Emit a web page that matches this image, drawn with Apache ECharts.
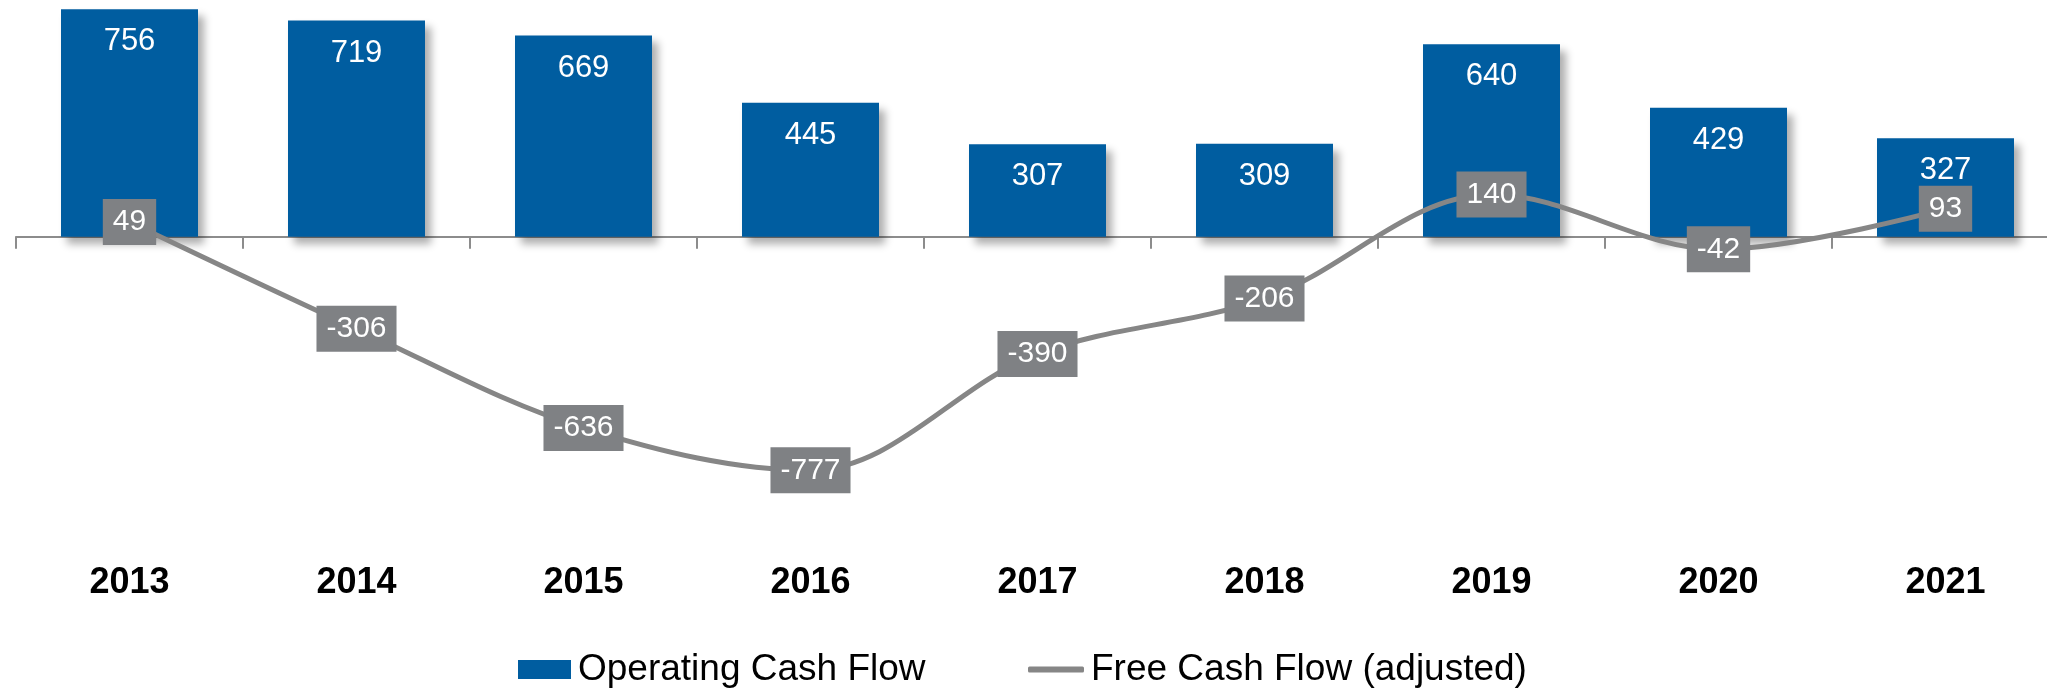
<!DOCTYPE html>
<html>
<head>
<meta charset="utf-8">
<script src="https://cdn.jsdelivr.net/npm/echarts@6/dist/echarts.min.js"></script>
<style>
  html, body { margin: 0; padding: 0; background: #ffffff; }
  #chart { width: 2047px; height: 691px; }
</style>
</head>
<body>
<div id="chart"></div>
<script>
// Fiscal years on the category axis
const years = ['2013', '2014', '2015', '2016', '2017', '2018', '2019', '2020', '2021'];
// Operating cash flow per year (bars)
const operatingCashFlow = [756, 719, 669, 445, 307, 309, 640, 429, 327];
// Adjusted free cash flow per year (line)
const freeCashFlow = [49, -306, -636, -777, -390, -206, 140, -42, 93];

const FONT = '"Liberation Sans", Arial, Helvetica, sans-serif';
const chart = echarts.init(document.getElementById('chart'), null, { renderer: 'canvas' });

const legendText = { fontFamily: FONT, fontSize: 37, color: '#000000', padding: [0, 0, 0, 2] };

chart.setOption({
  animation: false,
  backgroundColor: '#ffffff',
  textStyle: { fontFamily: FONT },
  grid: {
    left: 16, top: -3.9, width: 2043, height: 481.1,
    containLabel: false,
    outerBoundsMode: 'none'
  },
  legend: [
    {
      left: 518,
      top: 651,
      padding: 0,
      itemWidth: 53,
      itemHeight: 19,
      itemStyle: { shadowBlur: 0, shadowOffsetX: 0, shadowOffsetY: 0 },
      textStyle: legendText,
      data: [{ name: 'Operating Cash Flow', icon: 'rect' }]
    },
    {
      left: 1028,
      top: 651,
      padding: 0,
      itemWidth: 56,
      itemHeight: 6,
      itemStyle: { color: '#868686', borderWidth: 0 },
      textStyle: legendText,
      data: [{ name: 'Free Cash Flow (adjusted)', icon: 'roundRect' }]
    }
  ],
  xAxis: [
    {
      // baseline at zero with ticks between the years
      type: 'category',
      data: years,
      axisLine: { onZero: true, lineStyle: { color: '#8c8c8c', width: 2 } },
      axisTick: { show: true, length: 12, lineStyle: { color: '#8c8c8c', width: 2 } },
      axisLabel: { show: false },
      splitLine: { show: false }
    },
    {
      // year labels along the bottom
      type: 'category',
      data: years,
      position: 'bottom',
      axisLine: { show: false, onZero: false },
      axisTick: { show: false },
      axisLabel: {
        show: true,
        margin: 88,
        fontFamily: FONT,
        fontSize: 36,
        fontWeight: 'bold',
        color: '#000000'
      },
      splitLine: { show: false }
    }
  ],
  yAxis: {
    type: 'value',
    min: -800,
    max: 800,
    show: false,
    splitLine: { show: false }
  },
  series: [
    {
      name: 'Operating Cash Flow',
      type: 'bar',
      xAxisIndex: 0,
      data: operatingCashFlow,
      barWidth: 137,
      itemStyle: {
        color: '#005DA0',
        shadowColor: 'rgba(0,0,0,0.32)',
        shadowBlur: 8,
        shadowOffsetX: 6,
        shadowOffsetY: 7
      },
      label: {
        show: true,
        position: 'insideTop',
        distance: 17,
        fontFamily: FONT,
        fontSize: 31,
        color: '#ffffff'
      },
      z: 2
    },
    {
      name: 'Free Cash Flow (adjusted)',
      type: 'line',
      xAxisIndex: 0,
      data: freeCashFlow,
      smooth: 0.35,
      symbol: 'circle',
      symbolSize: 1,
      showSymbol: true,
      lineStyle: { color: '#868686', width: 5, cap: 'round' },
      itemStyle: { color: '#868686' },
      label: {
        show: true,
        position: 'inside',
        fontFamily: FONT,
        fontSize: 30,
        color: '#ffffff',
        backgroundColor: '#7F8184',
        padding: [8, 10]
      },
      z: 3
    }
  ]
});
</script>
</body>
</html>
